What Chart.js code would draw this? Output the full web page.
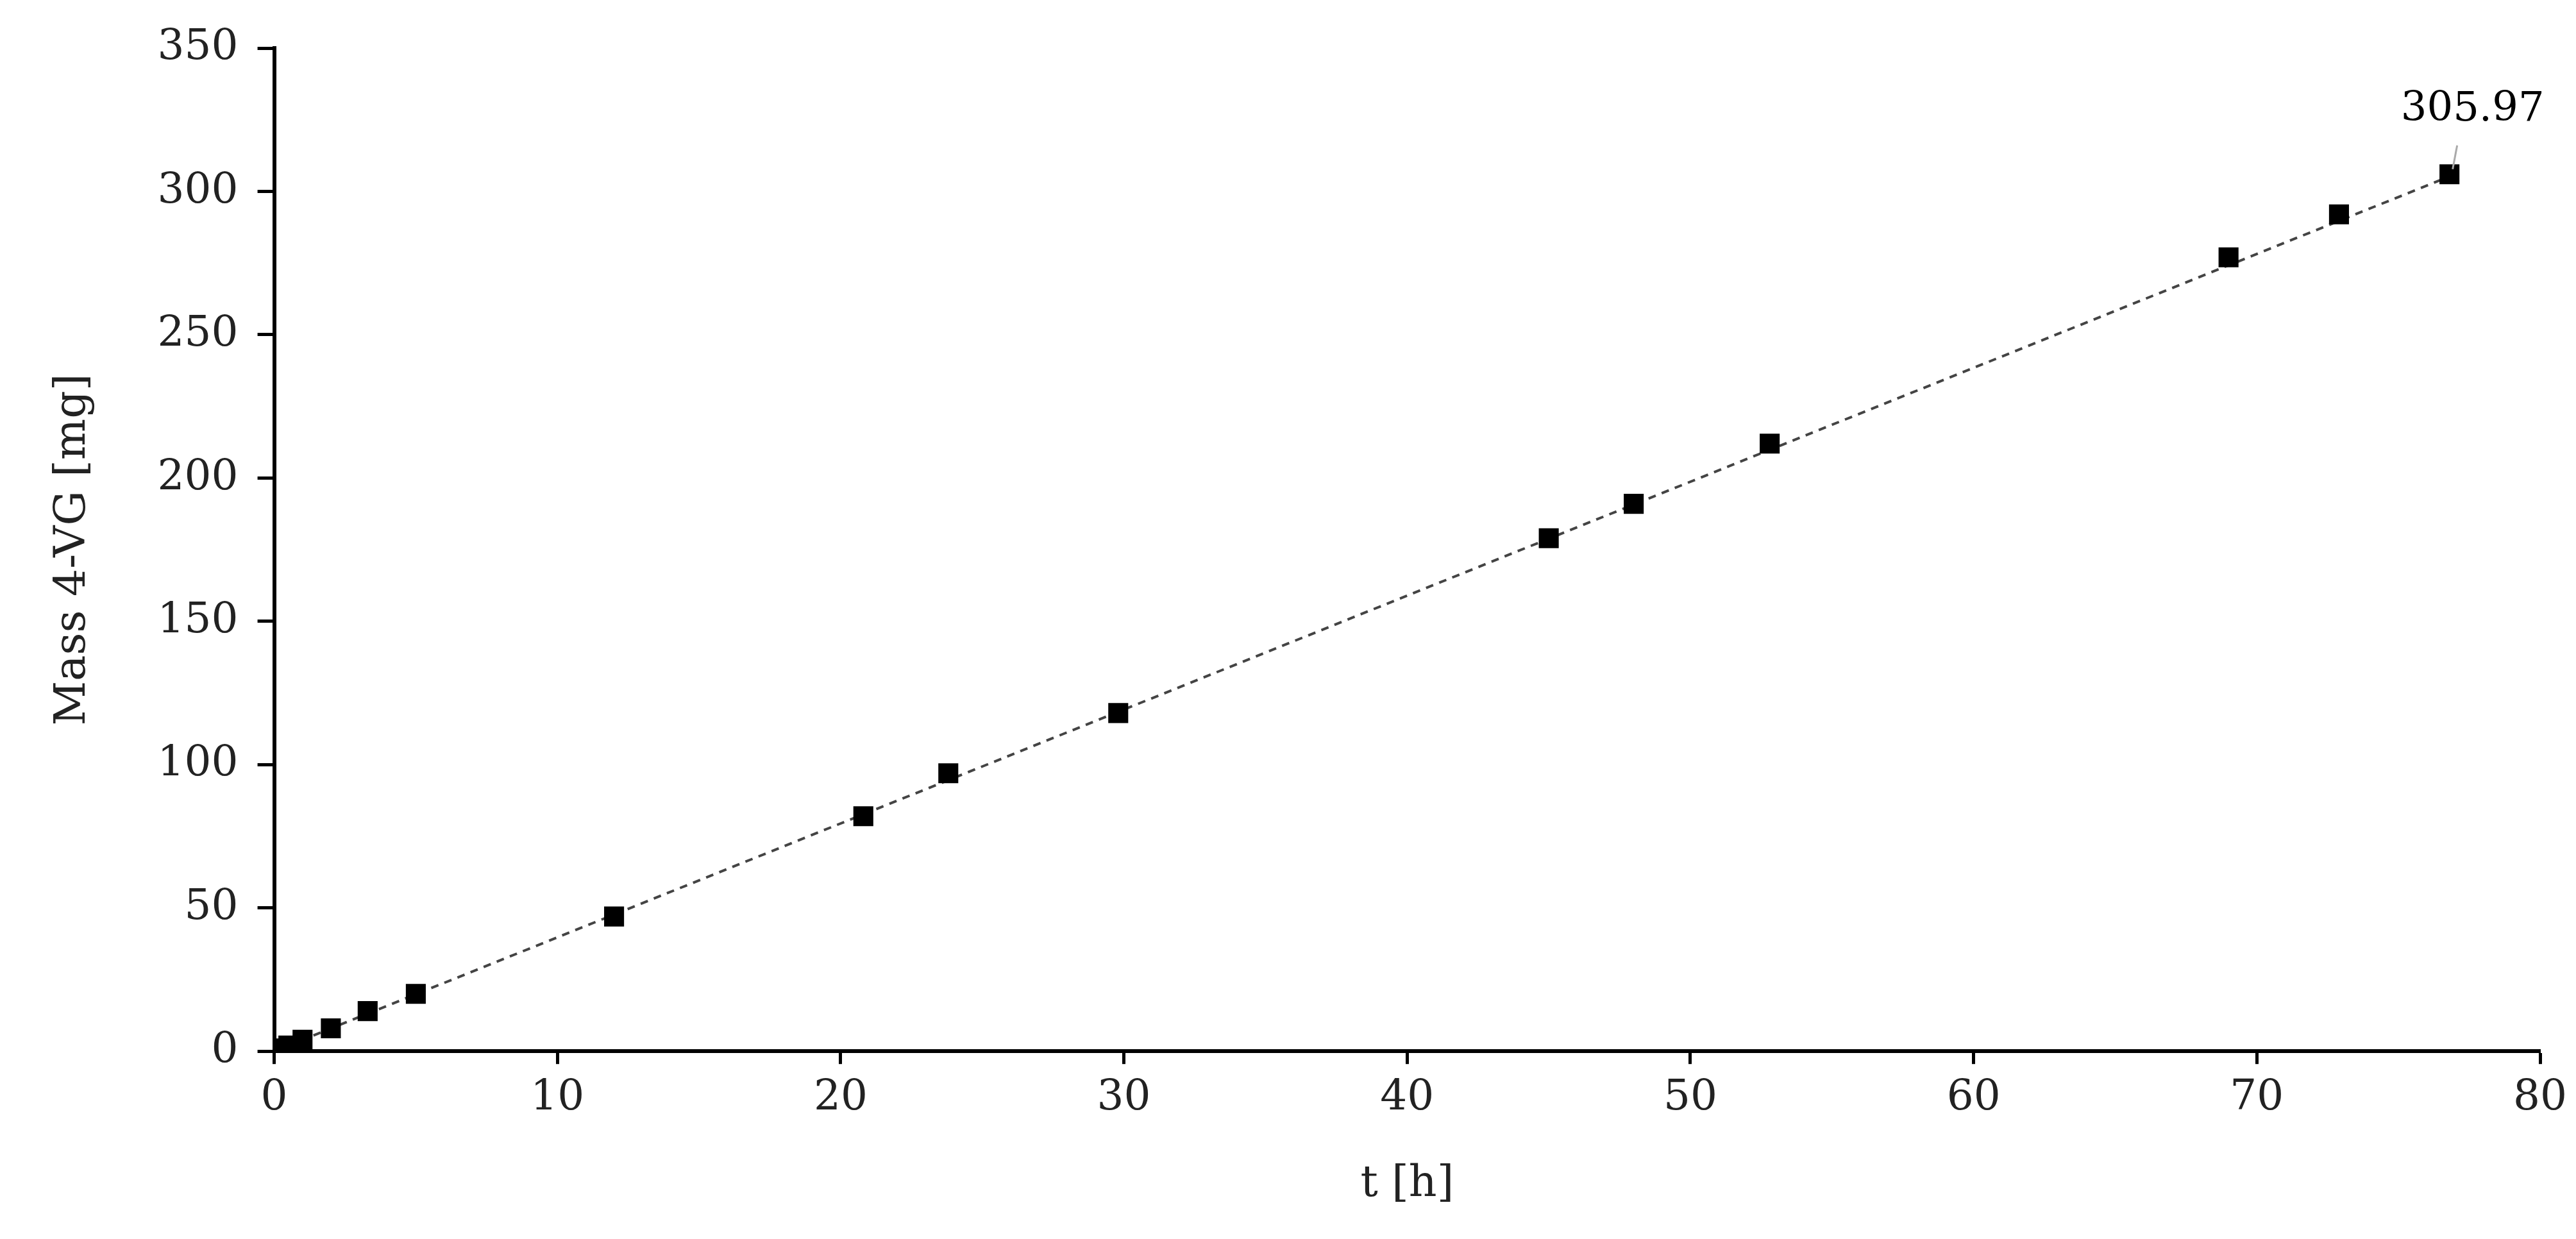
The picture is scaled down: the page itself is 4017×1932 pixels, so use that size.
<!DOCTYPE html>
<html>
<head>
<meta charset="utf-8">
<script src="https://cdn.jsdelivr.net/npm/chart.js@4"></script>
<style>
  html, body { margin: 0; padding: 0; background: #fff; }
  #wrap { width: 4017px; height: 1932px; }
</style>
</head>
<body>
<div id="wrap"><canvas id="myChart"></canvas></div>
<script>
// data
const timeH = [0, 0.25, 0.5, 1, 2, 3.3, 5, 12, 20.8, 23.8, 29.8, 45, 48, 52.8, 69, 72.9, 76.8];
const mass4VG = [0.5, 1, 2, 4, 8, 14, 20, 47, 82, 97, 118, 179, 191, 212, 277, 292, 305.97];
const trendX = [0, 77];
const trendY = [0, 306];
const xTicks = [0, 10, 20, 30, 40, 50, 60, 70, 80];
const yTicks = [0, 50, 100, 150, 200, 250, 300, 350];

const serif = "'DejaVu Serif', 'Liberation Serif', serif";

// last point label with a short leader line
const lastLabelPlugin = {
  id: "lastLabelPlugin",
  afterDatasetsDraw(chart) {
    const { ctx } = chart;
    const pt = chart.getDatasetMeta(0).data[mass4VG.length - 1];
    if (!pt) return;
    ctx.save();
    ctx.strokeStyle = "#aaa";
    ctx.lineWidth = 3;
    ctx.beginPath();
    ctx.moveTo(pt.x + 5, pt.y - 8);
    ctx.lineTo(pt.x + 12, pt.y - 45);
    ctx.stroke();
    ctx.fillStyle = "#000";
    ctx.font = "64px " + serif;
    ctx.textAlign = "center";
    ctx.textBaseline = "bottom";
    ctx.fillText(mass4VG[mass4VG.length - 1].toFixed(2), pt.x + 36, pt.y - 68);
    ctx.restore();
  },
};

new Chart(document.getElementById("myChart"), {
  type: "scatter",
  data: {
    datasets: [
      {
        label: "Mass",
        data: timeH.map((t, i) => ({ x: t, y: mass4VG[i] })),
        pointStyle: "rect",
        pointRadius: 22,
        pointBackgroundColor: "#000",
        pointBorderWidth: 0,
        order: 1,
      },
      {
        label: "Trend",
        type: "line",
        data: trendX.map((t, i) => ({ x: t, y: trendY[i] })),
        borderColor: "#444",
        borderWidth: 4,
        borderDash: [12, 10],
        pointRadius: 0,
        order: 2,
      },
    ],
  },
  options: {
    responsive: true,
    maintainAspectRatio: false,
    animation: false,
    layout: { padding: { top: 75, right: 50, left: 70, bottom: 40 } },
    scales: {
      x: {
        type: "linear",
        min: 0,
        max: 80,
        afterBuildTicks: (s) => { s.ticks = xTicks.map((v) => ({ value: v })); },
        grid: { display: true, drawOnChartArea: false, drawTicks: true, tickLength: 20, tickColor: "#000", tickWidth: 5 },
        border: { color: "#000", width: 6 },
        ticks: { color: "#222", font: { family: serif, size: 66 }, padding: 14 },
        title: { display: true, text: "t [h]", color: "#222", font: { family: serif, size: 68 }, padding: { top: 40 } },
      },
      y: {
        min: 0,
        max: 350,
        afterBuildTicks: (s) => { s.ticks = yTicks.map((v) => ({ value: v })); },
        grid: { display: true, drawOnChartArea: false, drawTicks: true, tickLength: 26, tickColor: "#000", tickWidth: 5 },
        border: { color: "#000", width: 6 },
        ticks: { color: "#222", font: { family: serif, size: 66 }, padding: 30 },
        title: { display: true, text: "Mass 4-VG [mg]", color: "#222", font: { family: serif, size: 68 }, padding: { bottom: 60 } },
      },
    },
    plugins: {
      legend: { display: false },
      tooltip: { enabled: false },
    },
  },
  plugins: [lastLabelPlugin],
});
</script>
</body>
</html>
